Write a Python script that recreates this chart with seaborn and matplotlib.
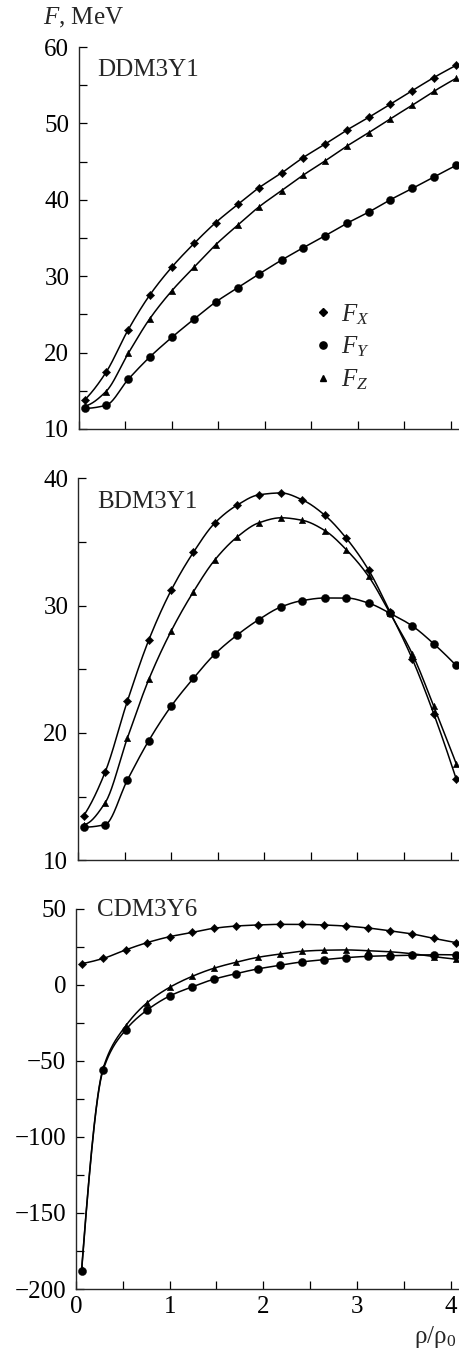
import numpy as np
import matplotlib
matplotlib.use("Agg")
import matplotlib.pyplot as plt
from matplotlib.lines import Line2D
import seaborn as sns

# ---- data -------------------------------------------------------------
rho = [0.06, 0.29, 0.53, 0.76, 1.00, 1.24, 1.47, 1.71, 1.94,
       2.18, 2.41, 2.65, 2.88, 3.12, 3.35, 3.59, 3.82, 4.06]

# DDM3Y1
ddm_FX = [13.8, 17.4, 23.0, 27.5, 31.2, 34.3, 37.0, 39.4, 41.6,
          43.5, 45.5, 47.3, 49.1, 50.8, 52.5, 54.3, 56.0, 57.6]
ddm_FY = [12.7, 13.1, 16.5, 19.4, 22.0, 24.4, 26.6, 28.5, 30.3,
          32.1, 33.7, 35.3, 36.9, 38.4, 40.0, 41.5, 43.0, 44.5]
ddm_FZ = [13.0, 14.9, 19.9, 24.4, 28.1, 31.2, 34.1, 36.7, 39.1,
          41.2, 43.2, 45.1, 47.0, 48.8, 50.6, 52.4, 54.2, 55.9]

# BDM3Y1
bdm_FX = [13.5, 16.9, 22.5, 27.3, 31.2, 34.2, 36.5, 37.9, 38.7,
          38.85, 38.3, 37.1, 35.3, 32.8, 29.5, 25.8, 21.5, 16.4]
bdm_FY = [12.6, 12.8, 16.3, 19.4, 22.1, 24.3, 26.2, 27.7, 28.9,
          29.9, 30.4, 30.6, 30.6, 30.2, 29.4, 28.4, 27.0, 25.3]
bdm_FZ = [12.8, 14.5, 19.6, 24.2, 28.0, 31.1, 33.6, 35.4, 36.5,
          36.9, 36.7, 35.9, 34.4, 32.3, 29.4, 26.2, 22.1, 17.6]

# CDM3Y6
cdm_FX = [13.9, 17.3, 22.9, 27.7, 31.6, 34.4, 37.1, 38.6, 39.3,
          39.7, 39.7, 39.3, 38.6, 37.3, 35.5, 33.4, 30.5, 27.7]
cdm_FY = [-188.0, -56.0, -29.7, -16.6, -7.4, -1.4, 3.6, 7.3, 10.4,
          12.8, 15.0, 16.5, 17.8, 18.7, 19.1, 19.4, 19.8, 19.6]
cdm_FZ = [-187.0, -54.9, -27.1, -11.8, -1.7, 5.5, 10.8, 14.8, 18.0,
          20.2, 22.0, 22.7, 22.9, 22.4, 21.7, 20.4, 18.5, 16.8]

panel_names = ["DDM3Y1", "BDM3Y1", "CDM3Y6"]
panel_data = [(ddm_FX, ddm_FY, ddm_FZ), (bdm_FX, bdm_FY, bdm_FZ), (cdm_FX, cdm_FY, cdm_FZ)]
series_labels = ["$F_X$", "$F_Y$", "$F_Z$"]

# ---- helpers -----------------------------------------------------------
def pchip(x, y, xn):
    x = np.asarray(x, float); y = np.asarray(y, float)
    h = np.diff(x); d = np.diff(y) / h
    n = len(x); m = np.zeros(n)
    for k in range(1, n - 1):
        if d[k - 1] * d[k] > 0:
            w1 = 2 * h[k] + h[k - 1]; w2 = h[k] + 2 * h[k - 1]
            m[k] = (w1 + w2) / (w1 / d[k - 1] + w2 / d[k])
    def endslope(h0, h1, d0, d1):
        s = ((2 * h0 + h1) * d0 - h0 * d1) / (h0 + h1)
        if np.sign(s) != np.sign(d0):
            s = 0.0
        elif np.sign(d0) != np.sign(d1) and abs(s) > abs(3 * d0):
            s = 3 * d0
        return s
    m[0] = endslope(h[0], h[1], d[0], d[1])
    m[-1] = endslope(h[-1], h[-2], d[-1], d[-2])
    idx = np.clip(np.searchsorted(x, xn) - 1, 0, n - 2)
    t = (xn - x[idx]) / h[idx]
    h00 = 2 * t**3 - 3 * t**2 + 1; h10 = t**3 - 2 * t**2 + t
    h01 = -2 * t**3 + 3 * t**2; h11 = t**3 - t**2
    return h00 * y[idx] + h10 * h[idx] * m[idx] + h01 * y[idx + 1] + h11 * h[idx] * m[idx + 1]

def fmt(v):
    return str(v).replace("-", "\u2212")

# ---- style -------------------------------------------------------------
sns.set_style("ticks")
plt.rcParams["font.family"] = ["Liberation Serif", "DejaVu Serif"]
plt.rcParams["mathtext.fontset"] = "custom"
plt.rcParams["mathtext.rm"] = "Liberation Serif"
plt.rcParams["mathtext.it"] = "Liberation Serif:italic"

FS = 18
W, H = 459, 1349
fig = plt.figure(figsize=(W / 100, H / 100), dpi=100)

# pixel boxes: (left, top, bottom)
boxes = [(79, 47, 429), (78, 478.3, 860.3), (76, 908.7, 1289)]
ylims = [(10, 60), (10, 40), (-200, 50)]
ymajor = [[10, 20, 30, 40, 50, 60], [10, 20, 30, 40], [-200, -150, -100, -50, 0, 50]]
yall = [np.arange(10, 61, 5), np.arange(10, 41, 5), np.arange(-200, 51, 25)]
label_y = [70, 501.7, 910]

markers = ["D", "o", "^"]
sizes = [18, 34, 22]
xd = np.linspace(rho[0], rho[-1], 600)

for i in range(3):
    l, t, b = boxes[i]
    ax = fig.add_axes([l / W, 1 - b / H, (458 - l) / W, (b - t) / H])
    for j, ser in enumerate(panel_data[i]):
        sns.lineplot(x=xd, y=pchip(rho, ser, xd), ax=ax, color="black",
                     linewidth=1.1, estimator=None, sort=False)
        sns.scatterplot(x=rho, y=ser, ax=ax, marker=markers[j], s=sizes[j],
                        color="black", edgecolor="black", linewidth=0.3, zorder=3)
    ax.set_xlim(0, 4.08)
    ax.set_ylim(*ylims[i])
    sns.despine(ax=ax)
    for s in ["left", "bottom"]:
        ax.spines[s].set_linewidth(1.0)
    ax.set_xticks(np.arange(0, 4.01, 0.5))
    if i == 2:
        ax.set_xticklabels(["0", "", "1", "", "2", "", "3", "", "4"])
    else:
        ax.set_xticklabels([])
    ax.set_yticks(yall[i])
    ax.set_yticklabels([fmt(int(v)) if v in ymajor[i] else "" for v in yall[i]])
    ax.tick_params(axis="both", direction="in", length=6, width=0.9,
                   labelsize=FS, colors="black")
    ax.tick_params(axis="y", pad=7)
    ax.tick_params(axis="x", pad=5)
    ax.set_xlabel(""); ax.set_ylabel("")
    ax.grid(False)
    fig.text(97 / W, 1 - label_y[i] / H, panel_names[i], fontsize=FS,
             ha="left", va="center")
    if i == 0:
        handles = [Line2D([], [], linestyle="none", marker=markers[k], color="black",
                          markersize=[3.6, 5.2, 4.2][k]) for k in range(3)]
        ax.legend(handles, series_labels, loc="upper left",
                  bbox_to_anchor=((317 - l) / (458 - l), 1 - (302 - t) / (b - t)),
                  frameon=False, fontsize=FS, handlelength=0.5, handletextpad=0.45,
                  labelspacing=0.33, borderpad=0, borderaxespad=0)

fig.text(43 / W, 1 - 18 / H, "$\\it{F}$, MeV", fontsize=FS, ha="left", va="center")
fig.text(456 / W, 1 - 1337 / H, "ρ/ρ$_0$", fontsize=FS, ha="right", va="center")

fig.savefig("out.png", dpi=100, facecolor="white")
